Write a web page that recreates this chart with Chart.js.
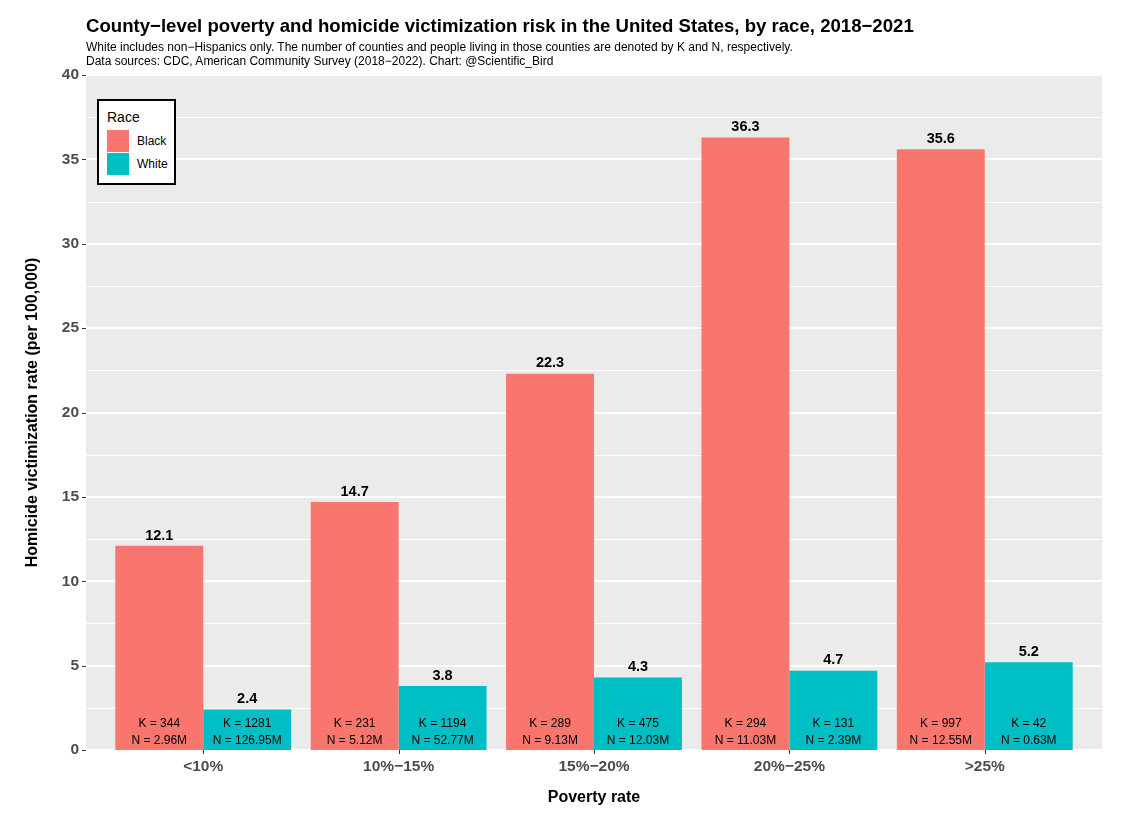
<!DOCTYPE html>
<html>
<head>
<meta charset="utf-8">
<script src="https://cdn.jsdelivr.net/npm/chart.js@4.4.1/dist/chart.umd.min.js"></script>
<style>
  body { margin: 0; background: #fff; font-family: "Liberation Sans", Arial, sans-serif; }
  #wrap { position: relative; width: 1125px; height: 827px; }
  #title { position: absolute; left: 86px; top: 16px; font-size: 18.6px; line-height: 20px; font-weight: bold; color: #000; white-space: nowrap; }
  #sub { position: absolute; left: 86px; top: 40px; font-size: 12px; line-height: 14px; color: #000; white-space: nowrap; }
  #legend { position: absolute; left: 97px; top: 99px; width: 75px; height: 82px; border: 2px solid #000; background: #fff; }
  #legend .lt { position: absolute; left: 8px; top: 8px; font-size: 14px; color: #000; }
  #legend .key { position: absolute; left: 8px; width: 22px; height: 22px; }
  #legend .kl { position: absolute; left: 38px; font-size: 12px; color: #000; }
</style>
</head>
<body>
<div id="wrap">
  <canvas id="chart" width="1125" height="827"></canvas>
  <div id="title">County−level poverty and homicide victimization risk in the United States, by race, 2018−2021</div>
  <div id="sub">White includes non−Hispanics only. The number of counties and people living in those counties are denoted by K and N, respectively.<br>Data sources: CDC, American Community Survey (2018−2022). Chart: @Scientific_Bird</div>
  <div id="legend"></div>
</div>
<script>
// données
const categories = ['<10%', '10%−15%', '15%−20%', '20%−25%', '>25%'];
const blackRate = [12.1, 14.7, 22.3, 36.3, 35.6];
const whiteRate = [2.4, 3.8, 4.3, 4.7, 5.2];
const blackK = [344, 231, 289, 294, 997];
const blackN = ['2.96M', '5.12M', '9.13M', '11.03M', '12.55M'];
const whiteK = [1281, 1194, 475, 131, 42];
const whiteN = ['126.95M', '52.77M', '12.03M', '2.39M', '0.63M'];
const yTicks = [0, 5, 10, 15, 20, 25, 30, 35, 40];

const FONT = '"Liberation Sans", Arial, sans-serif';
const PANEL_L = 86, PANEL_R = 1102, PANEL_T = 75, PANEL_B = 750;
const catW = (PANEL_R - PANEL_L) / 5.2; // ggplot : 0.6 d'expansion de chaque côté

// fond gris + grille blanche (style ggplot)
const panelPlugin = {
    id: 'panel',
    beforeDraw(chart) {
        const ctx = chart.ctx;
        const y = chart.scales.y;
        const x = chart.scales.x;
        const left = chart.chartArea.left - catW * 0.1;
        const right = chart.chartArea.right + catW * 0.1;
        ctx.save();
        ctx.fillStyle = '#EBEBEB';
        ctx.fillRect(left, chart.chartArea.top, right - left, chart.chartArea.bottom - chart.chartArea.top);
        ctx.strokeStyle = '#FFFFFF';
        // lignes mineures
        ctx.lineWidth = 1;
        for (let i = 0; i < yTicks.length - 1; i++) {
            const py = Math.round(y.getPixelForValue((yTicks[i] + yTicks[i + 1]) / 2)) + 0.5;
            ctx.beginPath(); ctx.moveTo(left, py); ctx.lineTo(right, py); ctx.stroke();
        }
        // lignes majeures
        ctx.lineWidth = 2;
        yTicks.forEach(v => {
            const py = Math.round(y.getPixelForValue(v));
            ctx.beginPath(); ctx.moveTo(left, py); ctx.lineTo(right, py); ctx.stroke();
        });
        // petits traits des axes
        ctx.strokeStyle = '#333333';
        ctx.lineWidth = 1;
        yTicks.forEach(v => {
            const py = Math.round(y.getPixelForValue(v)) + 0.5;
            ctx.beginPath(); ctx.moveTo(left - 4, py); ctx.lineTo(left, py); ctx.stroke();
        });
        categories.forEach((c, i) => {
            const px = Math.round(x.getPixelForValue(i)) + 0.5;
            ctx.beginPath(); ctx.moveTo(px, chart.chartArea.bottom); ctx.lineTo(px, chart.chartArea.bottom + 4); ctx.stroke();
        });
        ctx.restore();
    }
};

// étiquettes : valeur au-dessus, K et N en bas de chaque barre
const labelPlugin = {
    id: 'barLabels',
    afterDatasetsDraw(chart) {
        const ctx = chart.ctx;
        const kk = [blackK, whiteK];
        const nn = [blackN, whiteN];
        ctx.save();
        ctx.fillStyle = '#000';
        ctx.textAlign = 'center';
        chart.data.datasets.forEach((ds, d) => {
            const meta = chart.getDatasetMeta(d);
            meta.data.forEach((bar, i) => {
                ctx.font = 'bold 14.5px ' + FONT;
                ctx.textBaseline = 'bottom';
                ctx.fillText(ds.data[i].toFixed(1), bar.x, bar.y - 3);
                ctx.font = '12px ' + FONT;
                ctx.textBaseline = 'middle';
                ctx.fillText('K = ' + kk[d][i], bar.x, 724);
                ctx.fillText('N = ' + nn[d][i], bar.x, 741);
            });
        });
        ctx.restore();
    }
};

const myChart = new Chart(document.getElementById('chart'), {
    type: 'bar',
    data: {
        labels: categories,
        datasets: [
            { label: 'Black', data: blackRate, backgroundColor: '#F8766D' },
            { label: 'White', data: whiteRate, backgroundColor: '#00BFC4' }
        ]
    },
    options: {
        responsive: false,
        animation: false,
        devicePixelRatio: 1,
        layout: { padding: { top: PANEL_T, right: 1125 - (PANEL_R - catW * 0.1), bottom: 0, left: 0 } },
        datasets: { bar: { categoryPercentage: 0.9, barPercentage: 1.0, borderWidth: 0 } },
        plugins: { legend: { display: false }, tooltip: { enabled: false } },
        scales: {
            x: {
                grid: { display: false },
                border: { display: false },
                ticks: { color: '#4D4D4D', font: { family: FONT, size: 15.5, weight: 'bold' }, padding: -1 },
                title: { display: true, text: 'Poverty rate', color: '#000', font: { family: FONT, size: 16, weight: 'bold' }, padding: { top: 0, bottom: 20 } },
                afterFit(s) { s.height = 827 - PANEL_B; }
            },
            y: {
                min: 0, max: 40,
                afterBuildTicks(s) { s.ticks = yTicks.map(v => ({ value: v })); },
                grid: { display: false },
                border: { display: false },
                ticks: { color: '#4D4D4D', font: { family: FONT, size: 15.5, weight: 'bold' }, padding: 18.5 },
                title: { display: true, text: 'Homicide victimization rate (per 100,000)', color: '#000', font: { family: FONT, size: 16, weight: 'bold' }, padding: { top: 22.5, bottom: 0 } },
                afterFit(s) { s.width = PANEL_L + catW * 0.1; }
            }
        }
    },
    plugins: [panelPlugin, labelPlugin]
});

// légende à la ggplot, faite à partir des séries
const legend = document.getElementById('legend');
legend.innerHTML = '<div class="lt">Race</div>' + myChart.data.datasets.map((ds, i) =>
    `<div class="key" style="top:${29 + i * 23}px;background:${ds.backgroundColor}"></div>` +
    `<div class="kl" style="top:${33 + i * 23}px">${ds.label}</div>`).join('');
</script>
</body>
</html>
